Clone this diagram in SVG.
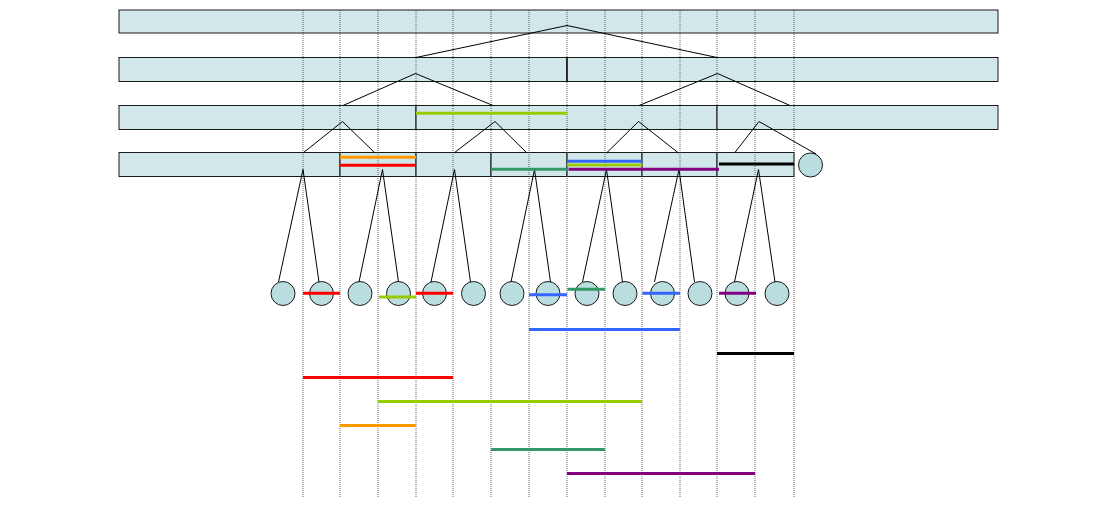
<svg xmlns="http://www.w3.org/2000/svg" width="1118" height="506" viewBox="0 0 1118 506">
<style>
.bar{fill:#d1e7ea;stroke:#1a1a1a;stroke-width:1}
.leaf{fill:#badedf;stroke:#1a1a1a;stroke-width:1}
.tree{fill:none;stroke:#000;stroke-width:1}
.grid{stroke:#333;stroke-width:1;stroke-dasharray:1 1;opacity:0.75}
.iv{stroke-width:3;fill:none}
.r{stroke:#ff0000}.o{stroke:#ff9900}.y{stroke:#99cc00}.g{stroke:#339966}.b{stroke:#3366ff}.p{stroke:#800080}.k{stroke:#000}
</style>
<rect width="1118" height="506" fill="#fff"/>
<g id="level1"><rect class="bar" x="119" y="10" width="879" height="23"/></g>
<g id="level2">
<g id="n2a"><rect class="bar" x="119" y="57.5" width="448" height="24"/></g>
<g id="n2b"><rect class="bar" x="567" y="57.5" width="431" height="24"/></g>
</g>
<g id="level3">
<g id="n3a"><rect class="bar" x="119" y="105.5" width="297" height="24"/></g>
<g id="n3b"><rect class="bar" x="416" y="105.5" width="301" height="24"/></g>
<g id="n3c"><rect class="bar" x="717" y="105.5" width="281" height="24"/></g>
</g>
<g id="level4">
<g id="n4a"><rect class="bar" x="119" y="152.5" width="221" height="24"/></g>
<g id="n4b"><rect class="bar" x="340" y="152.5" width="76" height="24"/></g>
<g id="n4c"><rect class="bar" x="416" y="152.5" width="75" height="24"/></g>
<g id="n4d"><rect class="bar" x="491" y="152.5" width="76" height="24"/></g>
<g id="n4e"><rect class="bar" x="567" y="152.5" width="75" height="24"/></g>
<g id="n4f"><rect class="bar" x="642" y="152.5" width="75" height="24"/></g>
<g id="n4g"><rect class="bar" x="717" y="152.5" width="77" height="24"/></g>
<g id="n4h"><circle class="leaf" cx="810.5" cy="165" r="12"/></g>
</g>
<g id="leaves">
<g id="c1"><circle class="leaf" cx="283" cy="293.5" r="12"/></g>
<g id="c2"><circle class="leaf" cx="321.5" cy="293.5" r="12"/></g>
<g id="c3"><circle class="leaf" cx="360" cy="293.5" r="12"/></g>
<g id="c4"><circle class="leaf" cx="398.5" cy="293.5" r="12"/></g>
<g id="c5"><circle class="leaf" cx="434.5" cy="293.5" r="12"/></g>
<g id="c6"><circle class="leaf" cx="473.5" cy="293.5" r="12"/></g>
<g id="c7"><circle class="leaf" cx="512" cy="293.5" r="12"/></g>
<g id="c8"><circle class="leaf" cx="548" cy="293.5" r="12"/></g>
<g id="c9"><circle class="leaf" cx="587" cy="293.5" r="12"/></g>
<g id="c10"><circle class="leaf" cx="625" cy="293.5" r="12"/></g>
<g id="c11"><circle class="leaf" cx="662.5" cy="293.5" r="12"/></g>
<g id="c12"><circle class="leaf" cx="700" cy="293.5" r="12"/></g>
<g id="c13"><circle class="leaf" cx="737" cy="293.5" r="12"/></g>
<g id="c14"><circle class="leaf" cx="777" cy="293.5" r="12"/></g>
</g>
<g id="grid">
<line class="grid" x1="303" y1="10" x2="303" y2="498"/>
<line class="grid" x1="340" y1="10" x2="340" y2="498"/>
<line class="grid" x1="378" y1="10" x2="378" y2="498"/>
<line class="grid" x1="416" y1="10" x2="416" y2="498"/>
<line class="grid" x1="453" y1="10" x2="453" y2="498"/>
<line class="grid" x1="491" y1="10" x2="491" y2="498"/>
<line class="grid" x1="529" y1="10" x2="529" y2="498"/>
<line class="grid" x1="567" y1="10" x2="567" y2="498"/>
<line class="grid" x1="605" y1="10" x2="605" y2="498"/>
<line class="grid" x1="642" y1="10" x2="642" y2="498"/>
<line class="grid" x1="680" y1="10" x2="680" y2="498"/>
<line class="grid" x1="717" y1="10" x2="717" y2="498"/>
<line class="grid" x1="755" y1="10" x2="755" y2="498"/>
<line class="grid" x1="794" y1="10" x2="794" y2="498"/>
</g>
<g id="connectors">
<polyline class="tree" points="416,57.5 567,25.5 717,57.5"/>
<polyline class="tree" points="343,105.5 415.5,73.5 493,105.5"/>
<polyline class="tree" points="639,105.5 717.5,73.5 790,105.5"/>
<polyline class="tree" points="303,153 342.5,121.5 375,153"/>
<polyline class="tree" points="454,153 495,121.5 527,153"/>
<polyline class="tree" points="606.5,153 638.5,121.5 678.5,153"/>
<polyline class="tree" points="734.5,153 759,121.5 816,154"/>
<polyline class="tree" points="278.5,282 303,169.5 319,282"/>
<polyline class="tree" points="359,282 382.5,169.5 398.5,282"/>
<polyline class="tree" points="431,282 454.5,169.5 470.5,282"/>
<polyline class="tree" points="511,282 534.5,169.5 550.5,282"/>
<polyline class="tree" points="582.5,282 606.5,169.5 622.5,282"/>
<polyline class="tree" points="654.5,282 679,169.5 694.5,282"/>
<polyline class="tree" points="734.5,282 758.5,169.5 775,282"/>
<g id="bar-dividers">
<line class="tree" x1="567" y1="57.5" x2="567" y2="81.5"/>
</g>
</g>
<g id="intervals">
<line class="iv y" x1="416" y1="113.3" x2="567" y2="113.3"/>
<line class="iv o" x1="340" y1="157.3" x2="416" y2="157.3"/>
<line class="iv r" x1="340" y1="165.3" x2="416" y2="165.3"/>
<line class="iv g" x1="491" y1="169.3" x2="567" y2="169.3"/>
<line class="iv b" x1="567" y1="161.3" x2="642" y2="161.3"/>
<line class="iv y" x1="567" y1="165" x2="642" y2="165"/>
<line class="iv p" x1="568.5" y1="169.3" x2="719" y2="169.3"/>
<line class="iv k" x1="719" y1="164" x2="794" y2="164"/>
<line class="iv r" x1="303" y1="293.3" x2="340" y2="293.3"/>
<line class="iv y" x1="379" y1="297" x2="416" y2="297"/>
<line class="iv r" x1="416" y1="293.3" x2="453" y2="293.3"/>
<line class="iv b" x1="529" y1="294.7" x2="567" y2="294.7"/>
<line class="iv g" x1="567.5" y1="289.3" x2="605" y2="289.3"/>
<line class="iv b" x1="642.5" y1="293.3" x2="680" y2="293.3"/>
<line class="iv p" x1="719" y1="293.3" x2="756" y2="293.3"/>
<line class="iv b" x1="529" y1="329.5" x2="680" y2="329.5"/>
<line class="iv k" x1="717" y1="353.5" x2="794" y2="353.5"/>
<line class="iv r" x1="303" y1="377.5" x2="453" y2="377.5"/>
<line class="iv y" x1="378" y1="401.5" x2="642" y2="401.5"/>
<line class="iv o" x1="340" y1="425.5" x2="416" y2="425.5"/>
<line class="iv g" x1="491" y1="449.5" x2="605" y2="449.5"/>
<line class="iv p" x1="567" y1="473.5" x2="755" y2="473.5"/>
</g>
</svg>
